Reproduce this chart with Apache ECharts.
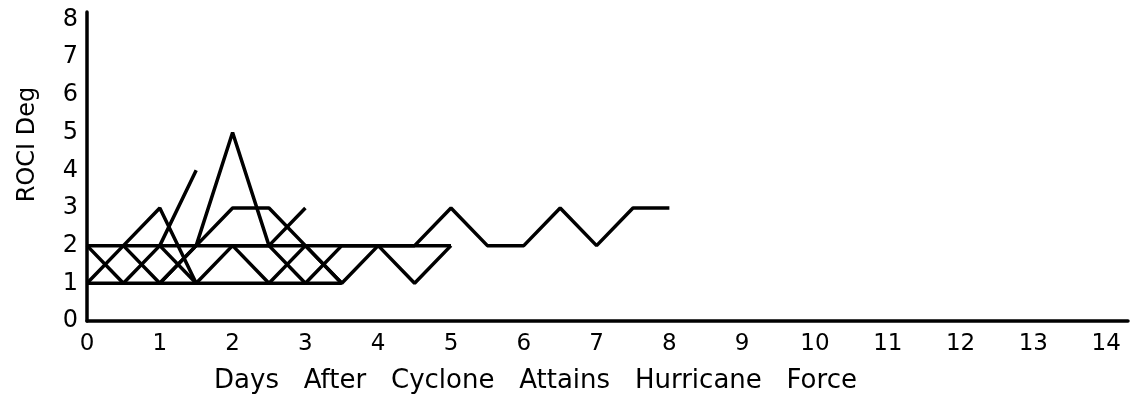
<!DOCTYPE html>
<html>
<head>
<meta charset="utf-8">
<script src="https://cdn.jsdelivr.net/npm/echarts@6/dist/echarts.min.js"></script>
<style>
html,body{margin:0;padding:0;background:#fff;}
#chart{width:1136px;height:401px;}
</style>
</head>
<body>
<div id="chart"></div>
<script>
// Days after cyclone attains hurricane force (12-hourly)
var days = [0, 0.5, 1, 1.5, 2, 2.5, 3, 3.5, 4, 4.5, 5, 5.5, 6, 6.5, 7, 7.5, 8];
// ROCI (deg) traces, null = no value
var traceA = [2, 1, 2, 4, null, null, null, null, null, null, null, null, null, null, null, null, null];
var traceB = [1, 2, 3, 1, 2, 1, 2, 1, 2, 1, 2, null, null, null, null, null, null];
var traceC = [2, 2, 2, 2, 2, 2, 2, 2, 2, 2, 3, 2, 2, 3, 2, 3, 3];
var traceD = [1, 1, 1, 1, 1, 1, 1, 1, null, null, null, null, null, null, null, null, null];
var traceE = [null, 2, 1, 2, 5, 2, 1, 2, 2, 2, 2, null, null, null, null, null, null];
var traceF = [null, null, 2, 1, null, null, null, null, null, null, null, null, null, null, null, null, null];
var traceG = [null, null, 1, 2, 3, 3, 2, 1, null, null, null, null, null, null, null, null, null];
var traceH = [null, null, null, null, 2, 2, 3, null, null, null, null, null, null, null, null, null, null];
var traces = [traceA, traceB, traceC, traceD, traceE, traceF, traceG, traceH];

var xTicks = [0,1,2,3,4,5,6,7,8,9,10,11,12,13,14];
var yTicks = [0,1,2,3,4,5,6,7,8];

var font = '"DejaVu Sans", sans-serif';
var chart = echarts.init(document.getElementById('chart'), null, {renderer: 'canvas'});
chart.setOption({
  backgroundColor: '#fff',
  animation: false,
  grid: {left: 87, right: 8, top: 12, bottom: 80, containLabel: false},
  xAxis: {
    type: 'value', min: 0, max: 14.3, interval: 1,
    name: 'Days   After   Cyclone   Attains   Hurricane   Force',
    nameLocation: 'middle', nameGap: 47,
    nameTextStyle: {color: '#000', fontSize: 26, fontFamily: font, padding: [0, 144, 0, 0]},
    axisLine: {show: true, lineStyle: {color: '#000', width: 3.5}},
    axisTick: {show: false},
    splitLine: {show: false},
    axisLabel: {color: '#000', fontSize: 23, fontFamily: font, margin: 12,
      formatter: function (v) { return xTicks.indexOf(v) >= 0 ? String(v) : ''; }}
  },
  yAxis: {
    type: 'value', min: 0, max: 8.2, interval: 1,
    name: 'ROCI Deg',
    nameLocation: 'middle', nameGap: 47,
    nameTextStyle: {color: '#000', fontSize: 24, fontFamily: font, padding: [0, 0, 0, 44]},
    axisLine: {show: true, lineStyle: {color: '#000', width: 3.5}},
    axisTick: {show: false},
    splitLine: {show: false},
    axisLabel: {color: '#000', fontSize: 24, fontFamily: font, margin: 9,
      formatter: function (v) { return yTicks.indexOf(v) >= 0 ? String(v) : ''; }}
  },
  series: traces.map(function (t) {
    return {
      type: 'line',
      data: days.map(function (d, i) { return [d, t[i]]; }),
      showSymbol: false,
      connectNulls: false,
      lineStyle: {color: '#000', width: 3.5},
      silent: true
    };
  })
});
</script>
</body>
</html>
